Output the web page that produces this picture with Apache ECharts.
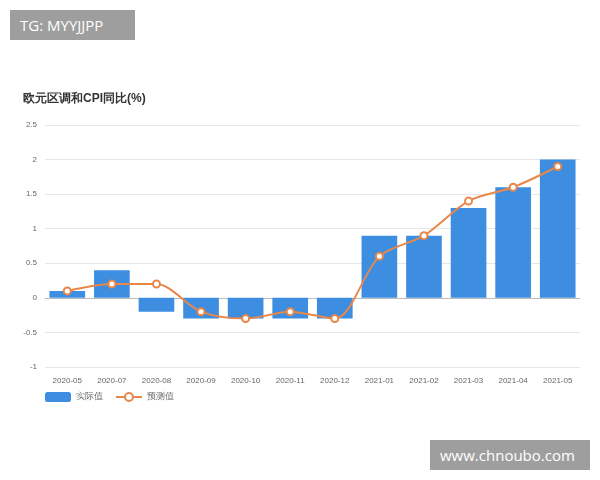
<!DOCTYPE html>
<html>
<head>
<meta charset="utf-8">
<script src="https://cdn.jsdelivr.net/npm/echarts@6/dist/echarts.min.js"></script>
<style>
  body { margin: 0; background: #fff; }
  #chart { width: 600px; height: 480px; }
  .tag { position: absolute; background: #9e9e9e; color: #fff; font-family: "Open Sans", sans-serif; font-size: 15px; padding: 5px 10px; }
</style>
</head>
<body>
<div id="chart"></div>
<div class="tag" style="left:10px;top:10px;width:105px;">TG: MYYJJPP</div>
<div class="tag" style="left:430px;top:440px;width:140px;">www.chnoubo.com</div>
<script>
const months = ['2020-05', '2020-07', '2020-08', '2020-09', '2020-10', '2020-11', '2020-12',
  '2021-01', '2021-02', '2021-03', '2021-04', '2021-05']
const actual = [0.1, 0.4, -0.2, -0.3, -0.3, -0.3, -0.3, 0.9, 0.9, 1.3, 1.6, 2.0]
const forecast = [0.1, 0.2, 0.2, -0.2, -0.3, -0.2, -0.3, 0.6, 0.9, 1.4, 1.6, 1.9]

const chart = echarts.init(document.getElementById('chart'))
chart.setOption({
  animation: false,
  title: {
    text: '欧元区调和CPI同比(%)',
    left: 18, top: 88,
    textStyle: { fontSize: 12, fontWeight: 'bold', color: '#333' },
  },
  legend: {
    left: 40, top: 387, itemWidth: 26, itemHeight: 10, itemGap: 12,
    textStyle: { fontSize: 9, color: '#666' },
    data: ['实际值', '预测值'],
  },
  grid: { left: 45, right: 20, top: 125, bottom: 113 },
  xAxis: {
    type: 'category', data: months,
    axisTick: { show: false },
    axisLine: { show: true, onZero: true, lineStyle: { color: '#bbb' } },
    axisLabel: { fontSize: 8, color: '#666', margin: 10 },
  },
  yAxis: {
    type: 'value', min: -1, max: 2.5, interval: 0.5,
    axisLabel: { fontSize: 8, color: '#666' },
    splitLine: { lineStyle: { color: '#e6e6e6' } },
  },
  series: [
    {
      name: '实际值', type: 'bar', data: actual, barWidth: '80%',
      itemStyle: { color: '#3d8ee0' },
    },
    {
      name: '预测值', type: 'line', data: forecast, smooth: 0.3,
      symbol: 'circle', symbolSize: 7,
      lineStyle: { color: '#e8874a', width: 2 },
      itemStyle: { color: '#fff', borderColor: '#e8874a', borderWidth: 2 },
    },
  ],
})
</script>
</body>
</html>
